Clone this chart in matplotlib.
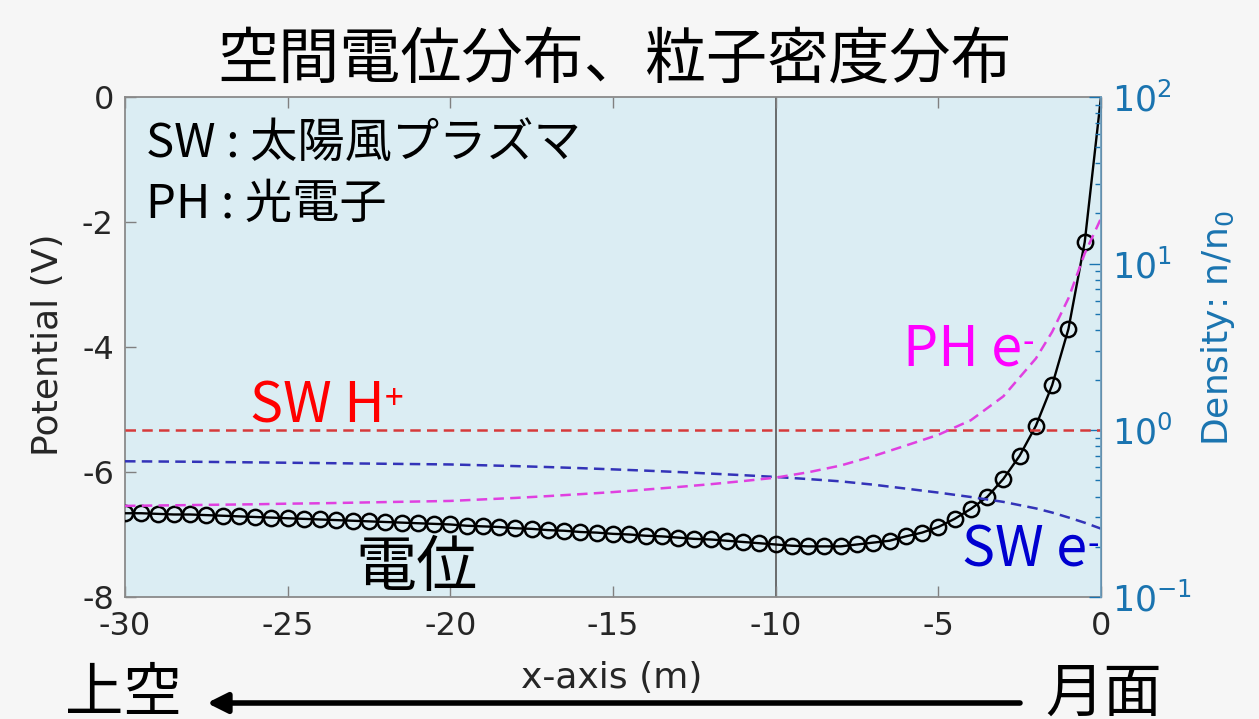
import numpy as np
import matplotlib
matplotlib.use('Agg')
import matplotlib.pyplot as plt
from matplotlib import ticker

plt.rcParams['axes.unicode_minus'] = False

# potential along x (m), every 0.5 m from -30 to 0
x_pot = np.linspace(-30, 0, 61)
potential = [-6.66, -6.66, -6.67, -6.68, -6.68, -6.69, -6.70, -6.71, -6.72, -6.73,
             -6.74, -6.75, -6.76, -6.77, -6.78, -6.79, -6.80, -6.81, -6.82, -6.83,
             -6.84, -6.86, -6.87, -6.88, -6.90, -6.91, -6.93, -6.94, -6.96, -6.97,
             -6.99, -7.00, -7.02, -7.03, -7.05, -7.07, -7.08, -7.10, -7.12, -7.14,
             -7.16, -7.18, -7.19, -7.19, -7.19, -7.16, -7.13, -7.10, -7.03, -6.97,
             -6.88, -6.75, -6.59, -6.40, -6.11, -5.74, -5.26, -4.61, -3.71, -2.32,
             0.0]

# normalised densities n/n0
x_den = [-30, -29, -28, -27, -26, -25, -24, -23, -22, -21, -20, -19, -18, -17, -16,
         -15, -14, -13, -12, -11, -10, -9, -8, -7, -6, -5, -4, -3, -2, -1.5, -1,
         -0.5, 0]
n_sw_ion = [1.0] * len(x_den)
n_sw_ele = [0.652, 0.650, 0.648, 0.645, 0.642, 0.639, 0.636, 0.633, 0.630, 0.627,
            0.624, 0.617, 0.610, 0.602, 0.593, 0.583, 0.573, 0.562, 0.550, 0.538,
            0.525, 0.510, 0.494, 0.472, 0.447, 0.423, 0.398, 0.372, 0.340, 0.321,
            0.300, 0.279, 0.257]
n_ph_ele = [0.352, 0.354, 0.356, 0.358, 0.360, 0.363, 0.365, 0.368, 0.371, 0.374,
            0.377, 0.385, 0.393, 0.403, 0.414, 0.426, 0.441, 0.457, 0.475, 0.496,
            0.520, 0.560, 0.615, 0.700, 0.810, 0.940, 1.15, 1.60, 2.70, 3.90,
            6.20, 11.5, 18.7]

xticks = [-30, -25, -20, -15, -10, -5, 0]
yticks = [0, -2, -4, -6, -8]
dens_ticks = [0.1, 1, 10, 100]
dens_ticklabels = ['$10^{-1}$', '$10^{0}$', '$10^{1}$', '$10^{2}$']

jp = ['Noto Sans CJK JP', 'DejaVu Sans']
blue_axis = '#1a74b0'
dark = '#262626'
dash = (0, (4.2, 2.5))

fig = plt.figure(figsize=(12.59, 7.19), dpi=100, facecolor='#f6f6f6')
ax = fig.add_axes([0.0993, 0.1697, 0.7752, 0.6954])
ax.set_facecolor('#dbedf3')

ax.axvline(-10, color='#555555', lw=1.2, zorder=1)
ax.plot(x_pot, potential, '-', color='k', lw=1.7, marker='o', markersize=11,
        markerfacecolor='none', markeredgecolor='k', markeredgewidth=1.8,
        markevery=slice(0, -1), zorder=3)

ax.set_xlim(-30, 0)
ax.set_ylim(-8, 0)
ax.set_xticks(xticks)
ax.set_yticks(yticks)
ax.tick_params(axis='both', direction='in', length=8, width=1, colors='#808080',
               labelcolor=dark, labelsize=23, top=True, pad=8)
ax.tick_params(axis='x', pad=10)
for s in ['left', 'top', 'bottom']:
    ax.spines[s].set_color('#8a8a8a')
    ax.spines[s].set_linewidth(1.3)
ax.set_ylabel('Potential (V)', fontsize=26, color=dark)
ax.yaxis.set_label_coords(-0.062, 0.504)
ax.set_xlabel('x-axis (m)', fontsize=26, color=dark)
ax.xaxis.set_label_coords(0.499, -0.128)

# density on a log axis to the right
ax2 = ax.twinx()
ax2.plot(x_den, n_sw_ion, color='#d63a3a', lw=1.8, ls=dash)
ax2.plot(x_den, n_sw_ele, color='#3333b8', lw=1.8, ls=dash)
ax2.plot(x_den, n_ph_ele, color='#e040e0', lw=1.8, ls=dash)
ax2.set_yscale('log')
ax2.set_ylim(0.1, 100)
ax2.set_xlim(-30, 0)
ax2.set_yticks(dens_ticks)
ax2.set_yticklabels(dens_ticklabels)
ax2.tick_params(axis='y', which='major', direction='in', length=9, width=1,
                colors=blue_axis, labelsize=25, pad=8)
ax2.tick_params(axis='y', which='minor', direction='in', length=4.5, width=1,
                colors=blue_axis)
ax2.spines['right'].set_color('#6f9fbf')
ax2.spines['right'].set_linewidth(1.3)
for s in ['left', 'top', 'bottom']:
    ax2.spines[s].set_visible(False)
ax2.set_ylabel('Density: n/n$_0$', fontsize=26, color=blue_axis)
ax2.yaxis.set_label_coords(1.100, 0.538)


def species_label(x, y, name, charge, color):
    t = ax.text(x, y, name, color=color, fontsize=40, family=jp,
                ha='left', va='baseline', zorder=5)
    ax.annotate(charge, xy=(1.0, 0.93), xycoords=t, color=color, fontsize=24,
                family=jp, ha='left', va='top', zorder=5)


species_label(-26.16, -5.21, 'SW H', '+', '#ff0000')
species_label(-6.08, -4.30, 'PH e', '-', '#ff00ff')
species_label(-4.27, -7.52, 'SW e', '-', '#0000d0')

ax.text(-22.93, -7.82, '電位', color='k', fontsize=44, family=jp,
        ha='left', va='baseline')
ax.text(-29.35, -0.96, 'SW : 太陽風プラズマ', color='k', fontsize=34, family=jp,
        ha='left', va='baseline')
ax.text(-29.35, -1.94, 'PH : 光電子', color='k', fontsize=34, family=jp,
        ha='left', va='baseline')

fig.text(0.488, 0.916, '空間電位分布、粒子密度分布', fontsize=44, family=jp,
         ha='center', va='center', color='k')

# direction arrow below the axis
fig.text(65 / 1259, 8 / 719, '上空', fontsize=42, family=jp,
         ha='left', va='baseline', color='k')
fig.text(1045 / 1259, 8 / 719, '月面', fontsize=42, family=jp,
         ha='left', va='baseline', color='k')
plt.annotate('', xy=(207, 16), xytext=(1020, 16), xycoords='figure pixels',
             textcoords='figure pixels',
             arrowprops=dict(arrowstyle='-|>,head_length=0.4,head_width=0.2',
                             mutation_scale=30, lw=4, color='k',
                             shrinkA=0, shrinkB=0))

fig.savefig('out.png', dpi=100, facecolor=fig.get_facecolor())
